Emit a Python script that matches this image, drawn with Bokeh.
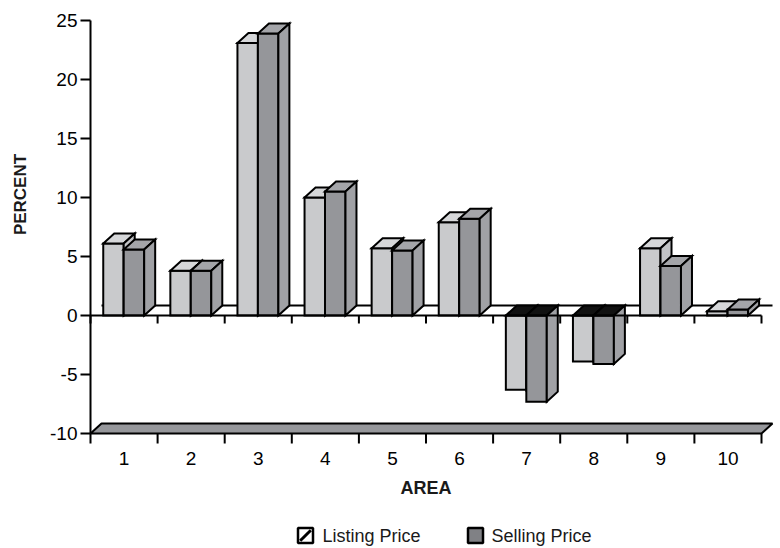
import numpy as np
from bokeh.plotting import figure
from bokeh.models import Range1d, ColumnDataSource
from bokeh.embed import file_html
from bokeh.resources import INLINE
from bokeh.core.properties import value

# ---------------- data ----------------
areas = ["1", "2", "3", "4", "5", "6", "7", "8", "9", "10"]
listing_price = [6.1, 3.8, 23.1, 10.0, 5.7, 7.9, -6.3, -3.9, 5.7, 0.35]
selling_price = [5.6, 3.8, 23.9, 10.5, 5.5, 8.2, -7.3, -4.1, 4.2, 0.5]
y_ticks = [-10, -5, 0, 5, 10, 15, 20, 25]
y_tick_labels = [str(t) for t in y_ticks]
series_names = ["Listing Price", "Selling Price"]
x_title = "AREA"
y_title = "PERCENT"

# ---------------- layout constants ----------------
W, H = 780, 548
X_PX = 67.1          # pixels per category
Y_PX = 11.8          # pixels per percent
X0_PX = 90           # pixel column of the left axis (x = 0.5)
Y0_PX = 315          # pixel row of y = 0
FONT = "Liberation Sans"

x_start = 0.5 - X0_PX / X_PX
x_end = x_start + W / X_PX
y_end = Y0_PX / Y_PX
y_start = y_end - H / Y_PX


def px_x(px):
    return x_start + px / X_PX


def px_y(py):
    return y_end - py / Y_PX


DX = 11 / X_PX   # 3-D depth offset
DY = 10 / Y_PX

y_min, y_max = min(y_ticks), max(y_ticks)
n = len(areas)
x_lo, x_hi = 0.5, n + 0.5

LIST_COLS = ("#c9cacc", "#d6d7d9", "#c2c3c6")   # front, top, side
SELL_COLS = ("#95969a", "#a4a5a9", "#a0a1a5")
NEG_TOP = "#111111"
FLOOR = "#96979b"

p = figure(width=W, height=H, x_range=Range1d(x_start, x_end),
           y_range=Range1d(y_start, y_end), output_backend="svg",
           toolbar_location=None, x_axis_location=None, y_axis_location=None,
           min_border=0)
p.outline_line_color = None
p.background_fill_color = "white"
p.border_fill_color = "white"
p.xgrid.visible = False
p.ygrid.visible = False

# floor at the bottom of the axis
p.patch([x_lo, x_hi, x_hi + DX, x_lo + DX], [y_min, y_min, y_min + DY, y_min + DY],
        fill_color=FLOOR, line_color="black", line_width=2)

# back edge of the zero plane
p.line([x_lo + DX, x_hi + DX], [DY, DY], line_color="black", line_width=2)

# 3-D bars
xs, ys, fills = [], [], []
for i, (lv, sv) in enumerate(zip(listing_price, selling_price)):
    c = i + 1
    for v, (l, r), cols in ((lv, (0.19, 0.495), LIST_COLS), (sv, (0.495, 0.80), SELL_COLS)):
        xl, xr = c - 0.5 + l, c - 0.5 + r
        top = max(v, 0)
        xs.append([xl, xr, xr, xl]); ys.append([0, 0, v, v]); fills.append(cols[0])
        xs.append([xl, xr, xr + DX, xl + DX]); ys.append([top, top, top + DY, top + DY])
        fills.append(cols[1] if v >= 0 else NEG_TOP)
        xs.append([xr, xr + DX, xr + DX, xr]); ys.append([0, DY, v + DY, v]); fills.append(cols[2])

p.patches(xs="xs", ys="ys", fill_color="fills", line_color="black", line_width=2,
          line_join="miter",
          source=ColumnDataSource(dict(xs=xs, ys=ys, fills=fills)))

# axes lines
p.line([x_lo, x_hi], [0, 0], line_color="black", line_width=2)
p.line([x_lo, x_lo], [y_min, y_max], line_color="black", line_width=2)

# y ticks
p.segment(x0=[x_lo - 10 / X_PX] * len(y_ticks), y0=y_ticks,
          x1=[x_lo] * len(y_ticks), y1=y_ticks, line_color="black", line_width=2)
# category boundary ticks on zero line and on bottom line
bounds = [b + 0.5 for b in range(n + 1)]
p.segment(x0=bounds, y0=[0] * len(bounds), x1=bounds, y1=[-8 / Y_PX] * len(bounds),
          line_color="black", line_width=2)
p.segment(x0=bounds, y0=[y_min] * len(bounds), x1=bounds,
          y1=[y_min - 10 / Y_PX] * len(bounds), line_color="black", line_width=2)

# tick labels
p.text(x=[x_lo] * len(y_ticks), y=y_ticks, text=y_tick_labels, x_offset=-13,
       text_align="right", text_baseline="middle", text_font=value(FONT),
       text_font_size="19px", text_color="black")
p.text(x=list(range(1, n + 1)), y=[y_min] * n, text=areas, y_offset=25,
       text_align="center", text_baseline="middle", text_font=value(FONT),
       text_font_size="19px", text_color="black")

# axis titles
p.text(x=[(x_lo + x_hi) / 2], y=[y_min], text=[x_title], y_offset=54,
       text_align="center", text_baseline="middle", text_font=value(FONT),
       text_font_style="bold", text_font_size="18px", text_color="#1a1a1a")
p.text(x=[px_x(20)], y=[px_y(194)], text=[y_title], angle=np.pi / 2,
       text_align="center", text_baseline="middle", text_font=value(FONT),
       text_font_style="bold", text_font_size="17px", text_color="#1a1a1a")

# legend
leg_y = px_y(535)
p.scatter(x=[px_x(305)], y=[leg_y], marker="square", size=15, fill_color="white",
          line_color="black", line_width=2.5)
p.scatter(x=[px_x(305)], y=[leg_y], marker="dash", angle=np.pi / 4, size=15,
          line_color="black", line_width=3)
p.scatter(x=[px_x(475)], y=[leg_y], marker="square", size=15, fill_color="#808185",
          line_color="black", line_width=2.5)
p.text(x=[px_x(322), px_x(491)], y=[leg_y, leg_y], text=series_names,
       text_align="left", text_baseline="middle", text_font=value(FONT),
       text_font_size="18px", text_color="#1a1a1a")

open("out.html", "w").write(file_html(p, INLINE))
